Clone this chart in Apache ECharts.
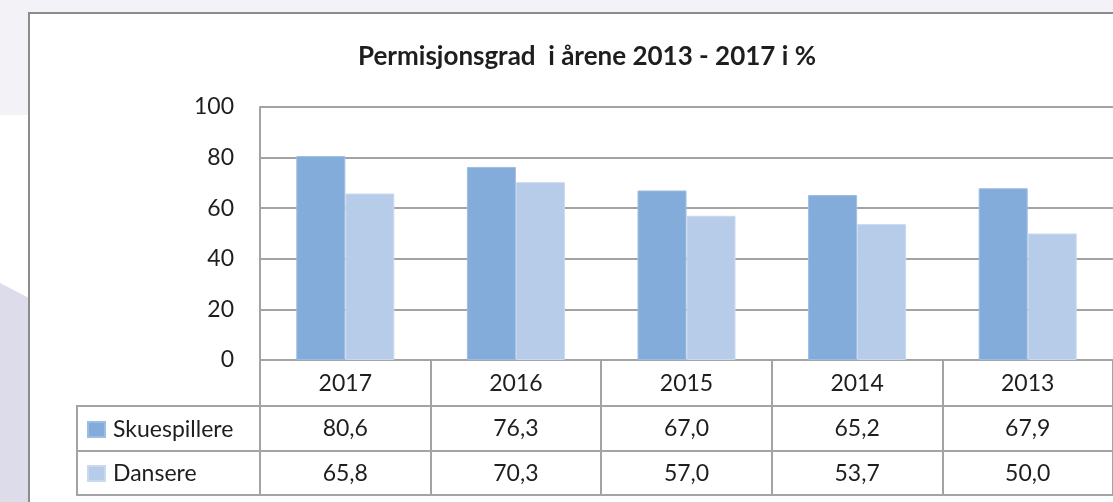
<!DOCTYPE html>
<html>
<head>
<meta charset="utf-8">
<script src="https://cdn.jsdelivr.net/npm/echarts@6/dist/echarts.min.js"></script>
<style>
  html, body { margin: 0; padding: 0; background: #fff; }
  #chart { width: 1113px; height: 502px; }
</style>
</head>
<body>
<div id="chart"></div>
<script>
// data
const years = ['2017', '2016', '2015', '2014', '2013']
const skuespillere = [80.6, 76.3, 67.0, 65.2, 67.9]
const dansere = [65.8, 70.3, 57.0, 53.7, 50.0]
const seriesNames = ['Skuespillere', 'Dansere']

const fontFamily = 'Lato, "Noto Sans", sans-serif'
const lineColor = '#a3a3a3'
const textColor = '#1e1e1e'
const fmt = v => v.toFixed(1).replace('.', ',')

const chart = echarts.init(document.getElementById('chart'))

// one extra category axis per table row, labels come from the series arrays
const tableAxis = (data, offset, showLabel) => ({
  type: 'category',
  data: data,
  position: 'bottom',
  offset: offset,
  axisLine: { show: true, lineStyle: { color: lineColor, width: 2 } },
  axisTick: { show: false },
  axisLabel: {
    show: showLabel,
    interval: 0,
    margin: 23,
    verticalAlign: 'middle',
    fontFamily: fontFamily,
    fontSize: 23,
    color: textColor
  }
})

const option = {
  animation: false,
  title: {
    text: 'Permisjonsgrad  i årene 2013 - 2017 i %',
    left: 353,
    top: 39,
    textStyle: { fontFamily: fontFamily, fontSize: 26, fontWeight: 'bold', color: textColor }
  },
  legend: {
    data: seriesNames,
    orient: 'vertical',
    left: 87,
    top: 415,
    padding: 0,
    itemWidth: 17,
    itemHeight: 15,
    itemGap: 15,
    icon: 'rect',
    textStyle: { fontFamily: fontFamily, fontSize: 23, lineHeight: 23, color: textColor, padding: [0, 0, 6, 3] }
  },
  grid: { left: 260, top: 107, right: 0, bottom: 142, containLabel: false },
  xAxis: [
    {
      type: 'category',
      data: years,
      position: 'bottom',
      axisLine: { show: true, lineStyle: { color: lineColor, width: 2 } },
      axisTick: { show: true, interval: 0, length: 135, lineStyle: { color: lineColor, width: 2 } },
      axisLabel: {
        interval: 0,
        margin: 24,
        verticalAlign: 'middle',
        fontFamily: fontFamily,
        fontSize: 23,
        color: textColor
      }
    },
    tableAxis(skuespillere.map(fmt), 46, true),
    tableAxis(dansere.map(fmt), 91, true),
    tableAxis(years, 135, false)
  ],
  yAxis: {
    type: 'value',
    min: 0,
    max: 100,
    interval: 20,
    axisLine: { show: true, lineStyle: { color: lineColor, width: 2 } },
    axisTick: { show: false },
    axisLabel: { margin: 26, fontFamily: fontFamily, fontSize: 23, color: textColor },
    splitLine: { lineStyle: { color: lineColor, width: 2 } }
  },
  series: [
    {
      name: seriesNames[0],
      type: 'bar',
      data: skuespillere,
      barWidth: 49,
      barGap: '0%',
      itemStyle: { color: '#84acdb', borderColor: '#9dbde4', borderWidth: 1 }
    },
    {
      name: seriesNames[1],
      type: 'bar',
      data: dansere,
      barWidth: 49,
      itemStyle: { color: '#b7cce8', borderColor: '#c9d9ee', borderWidth: 1 }
    }
  ],
  graphic: [
    // page background around the chart box
    { type: 'rect', z: -20, shape: { x: 0, y: 0, width: 1113, height: 13 }, style: { fill: '#f2f2f7' } },
    { type: 'rect', z: -20, shape: { x: 0, y: 13, width: 29, height: 102 }, style: { fill: '#f2f2f7' } },
    { type: 'polygon', z: -20, shape: { points: [[0, 283], [29, 298], [29, 502], [0, 502]] }, style: { fill: '#dcdcea' } },
    // chart box border
    { type: 'rect', z: -10, shape: { x: 29, y: 13, width: 1200, height: 600 }, style: { fill: '#fff', stroke: '#8c8c8c', lineWidth: 2 } },
    // legend column of the data table
    { type: 'line', shape: { x1: 77, y1: 406, x2: 261, y2: 406 }, style: { stroke: lineColor, lineWidth: 2 } },
    { type: 'line', shape: { x1: 77, y1: 451, x2: 261, y2: 451 }, style: { stroke: lineColor, lineWidth: 2 } },
    { type: 'line', shape: { x1: 77, y1: 495, x2: 261, y2: 495 }, style: { stroke: lineColor, lineWidth: 2 } },
    { type: 'line', shape: { x1: 77, y1: 405, x2: 77, y2: 496 }, style: { stroke: lineColor, lineWidth: 2 } }
  ]
}

chart.setOption(option)
</script>
</body>
</html>
